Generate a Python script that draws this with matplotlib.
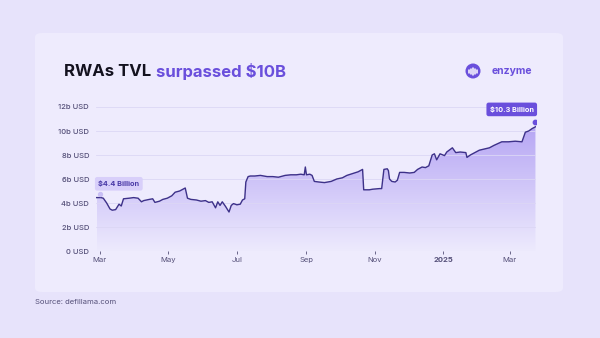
import matplotlib
matplotlib.use("Agg")
import matplotlib.pyplot as plt
import matplotlib.dates as mdates
from matplotlib.patches import FancyBboxPatch, Ellipse
from matplotlib.colors import LinearSegmentedColormap
import numpy as np
import pandas as pd

dates = [
    "2024-02-27", "2024-03-02", "2024-03-04", "2024-03-07", "2024-03-10", "2024-03-12",
    "2024-03-15", "2024-03-18", "2024-03-20", "2024-03-22", "2024-03-27", "2024-03-31",
    "2024-04-04", "2024-04-07", "2024-04-09", "2024-04-14", "2024-04-17", "2024-04-19",
    "2024-04-23", "2024-04-26", "2024-04-30", "2024-05-04", "2024-05-07", "2024-05-11",
    "2024-05-14", "2024-05-16", "2024-05-18", "2024-05-21", "2024-05-26", "2024-05-30",
    "2024-06-03", "2024-06-06", "2024-06-09", "2024-06-12", "2024-06-14", "2024-06-16",
    "2024-06-18", "2024-06-21", "2024-06-24", "2024-06-26", "2024-06-28", "2024-07-01",
    "2024-07-04", "2024-07-06", "2024-07-08", "2024-07-09", "2024-07-11", "2024-07-13",
    "2024-07-17", "2024-07-22", "2024-07-28", "2024-08-02", "2024-08-07", "2024-08-13",
    "2024-08-18", "2024-08-23", "2024-08-27", "2024-08-30", "2024-08-31", "2024-09-01",
    "2024-09-04", "2024-09-06", "2024-09-08", "2024-09-12", "2024-09-17", "2024-09-23",
    "2024-09-28", "2024-10-03", "2024-10-07", "2024-10-12", "2024-10-17", "2024-10-21",
    "2024-10-22", "2024-10-27", "2024-10-30", "2024-11-05", "2024-11-07", "2024-11-09",
    "2024-11-12", "2024-11-13", "2024-11-14", "2024-11-16", "2024-11-19", "2024-11-21",
    "2024-11-23", "2024-11-27", "2024-12-02", "2024-12-06", "2024-12-09", "2024-12-13",
    "2024-12-16", "2024-12-19", "2024-12-22", "2024-12-24", "2024-12-26", "2024-12-29",
    "2025-01-02", "2025-01-04", "2025-01-09", "2025-01-12", "2025-01-16", "2025-01-21",
    "2025-01-22", "2025-01-25", "2025-02-02", "2025-02-11", "2025-02-15", "2025-02-22",
    "2025-02-28", "2025-03-06", "2025-03-12", "2025-03-15", "2025-03-18", "2025-03-21",
    "2025-03-24",
]
tvl = [
    4.45, 4.45, 4.4, 4.0, 3.5, 3.4,
    3.45, 3.9, 3.75, 4.35, 4.4, 4.45,
    4.4, 4.1, 4.2, 4.3, 4.35, 4.05,
    4.15, 4.3, 4.4, 4.6, 4.9, 5.0,
    5.15, 5.25, 4.4, 4.3, 4.25, 4.15,
    4.2, 4.05, 4.1, 3.6, 4.1, 3.8,
    4.1, 3.7, 3.25, 3.8, 3.95, 3.85,
    3.9, 4.25, 4.35, 5.75, 6.2, 6.25,
    6.25, 6.3, 6.2, 6.2, 6.15, 6.3,
    6.35, 6.35, 6.4, 6.35, 7.0, 6.35,
    6.4, 6.3, 5.8, 5.75, 5.7, 5.8,
    6.0, 6.1, 6.3, 6.45, 6.6, 6.8,
    5.1, 5.1, 5.15, 5.2, 5.2, 6.8,
    6.85, 6.7, 6.0, 5.8, 5.75, 5.9,
    6.55, 6.55, 6.5, 6.55, 6.8, 7.0,
    6.95, 7.1, 8.0, 8.1, 7.6, 8.1,
    7.95, 8.25, 8.6, 8.2, 8.25, 8.2,
    7.8, 8.0, 8.4, 8.6, 8.8, 9.1,
    9.1, 9.15, 9.1, 9.9, 10.0, 10.2,
    10.35,
]
y_ticks = [0, 2, 4, 6, 8, 10, 12]
x_ticks = ["2024-03-01", "2024-05-01", "2024-07-01", "2024-09-01",
           "2024-11-01", "2025-01-01", "2025-03-01"]
x_tick_labels = ["Mar", "May", "Jul", "Sep", "Nov", "2025", "Mar"]
start_label = "$4.4 Billion"
end_label = "$10.3 Billion"

plt.rcParams["font.family"] = ["Inter", "DejaVu Sans"]

bg = "#e7e3fb"
card = "#eeebfd"
line_col = "#3d3189"
purple = "#6a4fdc"
tick_col = "#555079"

x = pd.to_datetime(dates)
xn = mdates.date2num(x)

fig = plt.figure(figsize=(6, 3.38), dpi=100, facecolor=bg)

# card behind the chart
fig.patches.append(FancyBboxPatch(
    (35 / 600, 1 - 292 / 338), 528 / 600, 259 / 338,
    boxstyle="round,pad=0,rounding_size=0.012",
    transform=fig.transFigure, facecolor=card, edgecolor="none", zorder=-5))

ax = fig.add_axes([96 / 600, 1 - 251 / 338, (536 - 96) / 600, 144 / 338])
ax.set_zorder(2)
ax.set_facecolor("none")

# gradient area under the curve
area = ax.fill_between(xn, tvl, 0, facecolor="none", edgecolor="none")
cmap = LinearSegmentedColormap.from_list("fade", ["#edeafd", "#b6a6f4"])
grad = np.linspace(0, 1, 256).reshape(-1, 1)
img = ax.imshow(grad, cmap=cmap, aspect="auto", origin="lower",
                extent=[xn[0], xn[-1], 0, max(tvl)], zorder=1)
img.set_clip_path(area.get_paths()[0], transform=ax.transData)
ax.set_xlim(xn[0] - 0.5, xn[-1] + 0.5)
ax.set_ylim(0, 12)

ax.plot(xn, tvl, color=line_col, lw=1.0, zorder=3)

ax.set_yticks(y_ticks)
ax.set_yticklabels([f"{v}b USD" if v else "0 USD" for v in y_ticks])
ax.set_xticks(mdates.date2num(pd.to_datetime(x_ticks)))
ax.set_xticklabels(x_tick_labels)
for lab, txt in zip(ax.get_xticklabels(), x_tick_labels):
    if txt == "2025":
        lab.set_fontweight("bold")
ax.tick_params(axis="y", length=0, labelsize=5.5, labelcolor=tick_col, pad=5)
ax.tick_params(axis="x", length=2.5, width=0.6, color=tick_col, labelsize=5.5,
               labelcolor=tick_col, pad=1.5, direction="out")
for lab in ax.get_yticklabels():
    lab.set_fontweight("medium")
ax.grid(axis="y", color="#dcd7f5", lw=0.6, zorder=0)
for s in ax.spines.values():
    s.set_visible(False)

# start / end annotations
ax.scatter([xn[0] + 3], [tvl[0] + 0.3], s=8, color="#c9bff5", zorder=4)
ax.text(xn[0] + 1.5, tvl[0] + 1.15, start_label, fontsize=5.3, fontweight="bold",
        color="#4b3ba8", ha="left", va="center", zorder=5,
        bbox=dict(boxstyle="round,pad=0.45,rounding_size=0.3",
                  facecolor="#d8cffa", edgecolor="none"))
ax.scatter([xn[-1]], [tvl[-1] + 0.4], s=10, color=purple, zorder=4)
ax.text(xn[-1] - 1.5, tvl[-1] + 1.45, end_label, fontsize=5.3, fontweight="bold",
        color="white", ha="right", va="center", zorder=5,
        bbox=dict(boxstyle="round,pad=0.45,rounding_size=0.3",
                  facecolor=purple, edgecolor="none"))

# title
t1 = fig.text(64 / 600, 1 - 72 / 338, "RWAs TVL", fontsize=12,
              fontweight="bold", color="#14121f", va="center", ha="left")
fig.canvas.draw()
bb = t1.get_window_extent()
fig.text((bb.x1 + 5) / fig.bbox.width, 1 - 72 / 338, "surpassed $10B",
         fontsize=12, fontweight="bold", color=purple, va="center", ha="left")

# logo: purple disc with a small white waveform
cx, cy = 473, 71
fig.patches.append(Ellipse((cx / 600, 1 - cy / 338), 15 / 600, 15 / 338,
                           transform=fig.transFigure, facecolor=purple,
                           edgecolor="none"))
for dx, h in zip([-4.5, -2.2, 0, 2.2, 4.5], [3, 5, 7, 5, 3]):
    fig.add_artist(plt.Line2D([(cx + dx) / 600] * 2,
                              [1 - (cy + h / 2) / 338, 1 - (cy - h / 2) / 338],
                              transform=fig.transFigure, color="white",
                              lw=1.1, solid_capstyle="round"))
fig.text(492 / 600, 1 - 71 / 338, "enzyme", fontsize=7.5, fontweight="bold",
         color=purple, va="center", ha="left")

fig.text(35 / 600, 1 - 302 / 338, "Source: defillama.com", fontsize=5.5,
         color=tick_col, va="center", ha="left")

fig.savefig("out.png", dpi=100, facecolor=bg)
